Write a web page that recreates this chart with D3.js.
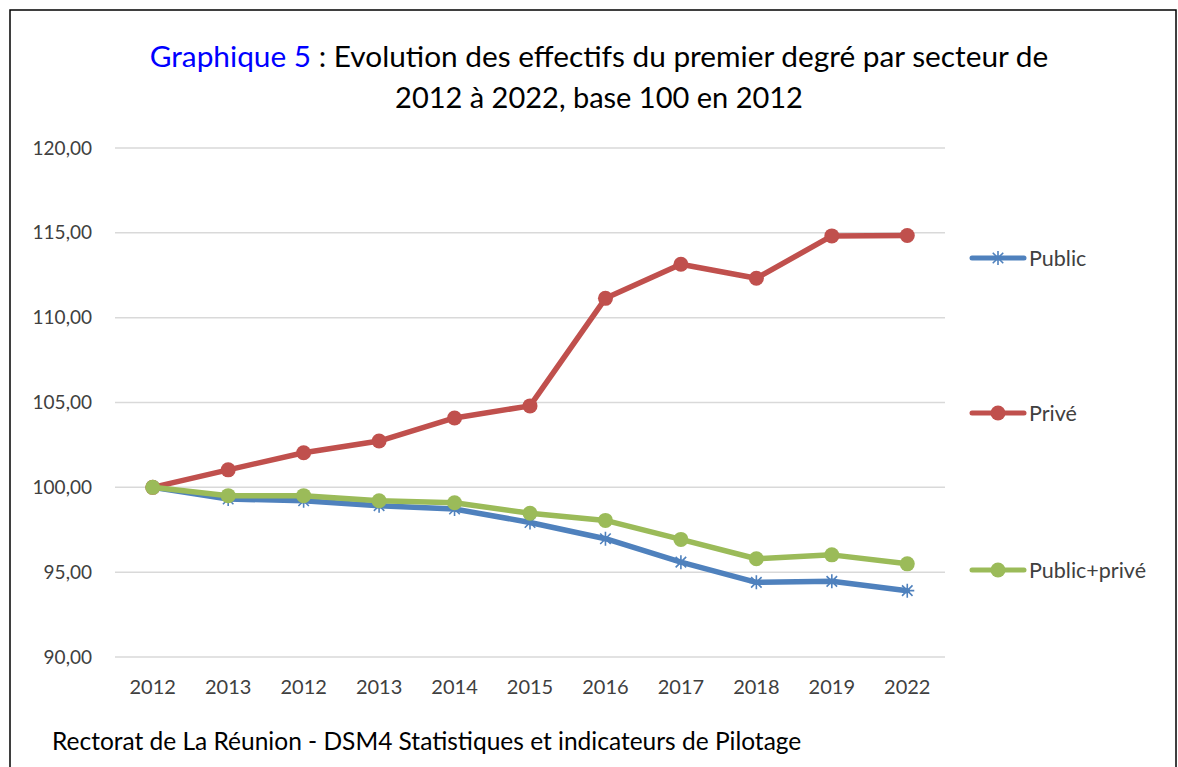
<!DOCTYPE html>
<html>
<head>
<meta charset="utf-8">
<script src="https://cdn.jsdelivr.net/npm/d3@7"></script>
<style>
  body { margin: 0; background: #fff; }
  svg { display: block; font-family: Lato, "Open Sans", sans-serif; }
</style>
</head>
<body>
<svg width="1178" height="767"></svg>
<script>
// catégories (l'axe reprend les libellés tels quels, doublons compris)
let years = ["2012", "2013", "2012", "2013", "2014", "2015", "2016", "2017", "2018", "2019", "2022"];
let yTicks = [90, 95, 100, 105, 110, 115, 120];

// séries base 100
let publicVals = [100, 99.31, 99.21, 98.92, 98.72, 97.93, 96.97, 95.59, 94.40, 94.46, 93.91];
let priveVals = [100, 101.03, 102.04, 102.73, 104.09, 104.80, 111.14, 113.15, 112.32, 114.82, 114.84];
let totalVals = [100, 99.51, 99.51, 99.21, 99.09, 98.47, 98.05, 96.93, 95.79, 96.02, 95.49];

let seriesNames = ["Public", "Privé", "Public+privé"];
let seriesColors = ["#4F81BD", "#C0504D", "#9BBB59"];
let seriesMarkers = ["star", "circle", "circle"];

let series = [publicVals, priveVals, totalVals].map((vals, i) => ({
    name: seriesNames[i],
    color: seriesColors[i],
    marker: seriesMarkers[i],
    values: vals
}));

let svg = d3.select("svg");

//cadre
svg.append("rect")
    .attr("x", 10).attr("y", 10)
    .attr("width", 1166).attr("height", 770)
    .attr("fill", "none")
    .attr("stroke", "#000")
    .attr("stroke-width", 1.5);

//titre
let title = svg.append("text")
    .attr("x", 599).attr("y", 67)
    .attr("text-anchor", "middle")
    .style("font-size", "29.8px")
    .attr("fill", "#000");
title.append("tspan").attr("fill", "#0000FF").text("Graphique 5");
title.append("tspan").text(" : Evolution des effectifs du premier degré par secteur de");
svg.append("text")
    .attr("x", 599).attr("y", 108)
    .attr("text-anchor", "middle")
    .style("font-size", "29px")
    .attr("fill", "#000")
    .text("2012 à 2022, base 100 en 2012");

//échelles
let x = d3.scaleBand().domain(d3.range(years.length)).range([115, 945]);
let y = d3.scaleLinear().domain([90, 120]).range([657, 148]);

//grille
svg.append("g")
    .selectAll("line")
    .data(yTicks)
    .enter()
    .append("line")
    .attr("x1", 115).attr("x2", 945)
    .attr("y1", d => y(d)).attr("y2", d => y(d))
    .attr("stroke", "#D9D9D9")
    .attr("stroke-width", 1.5);

//axe y
let yAxis = svg.append("g")
    .attr("transform", "translate(100,0)")
    .call(d3.axisLeft(y).tickValues(yTicks).tickSize(0).tickPadding(8)
        .tickFormat(d => d3.format(".2f")(d).replace(".", ",")));
yAxis.select(".domain").remove();
yAxis.selectAll("text")
    .attr("fill", "#404040")
    .style("font-size", "19px")
    .style("font-family", "Lato, 'Open Sans', sans-serif");

//axe x
let xAxis = svg.append("g")
    .attr("transform", "translate(0,674)")
    .call(d3.axisBottom(x).tickSize(0).tickPadding(6).tickFormat(i => years[i]));
xAxis.select(".domain").remove();
xAxis.selectAll("text")
    .attr("fill", "#404040")
    .style("font-size", "20px")
    .style("font-family", "Lato, 'Open Sans', sans-serif");

let cx = i => x(i) + x.bandwidth() / 2;

let line = d3.line()
    .x((d, i) => cx(i))
    .y(d => y(d));

//marqueur étoile (astérisque) ou rond
function drawMarker(g, s, px, py) {
    if (s.marker === "circle") {
        g.append("circle")
            .attr("cx", px).attr("cy", py).attr("r", 7.5)
            .attr("fill", s.color);
    } else {
        let r = 7;
        let path = "M" + (px - r) + "," + py + "L" + (px + r) + "," + py
            + "M" + px + "," + (py - r) + "L" + px + "," + (py + r)
            + "M" + (px - r * 0.75) + "," + (py - r * 0.75) + "L" + (px + r * 0.75) + "," + (py + r * 0.75)
            + "M" + (px - r * 0.75) + "," + (py + r * 0.75) + "L" + (px + r * 0.75) + "," + (py - r * 0.75);
        g.append("path")
            .attr("d", path)
            .attr("stroke", s.color)
            .attr("stroke-width", 1.6)
            .attr("fill", "none");
    }
}

//courbes
series.forEach(s => {
    let g = svg.append("g");
    g.append("path")
        .datum(s.values)
        .attr("d", line)
        .attr("fill", "none")
        .attr("stroke", s.color)
        .attr("stroke-width", 5.5)
        .attr("stroke-linejoin", "round")
        .attr("stroke-linecap", "round");
    s.values.forEach((v, i) => drawMarker(g, s, cx(i), y(v)));
});

//légende
let legendY = [258, 413, 570];
series.forEach((s, i) => {
    let g = svg.append("g");
    g.append("line")
        .attr("x1", 972).attr("x2", 1024)
        .attr("y1", legendY[i]).attr("y2", legendY[i])
        .attr("stroke", s.color)
        .attr("stroke-width", 5)
        .attr("stroke-linecap", "round");
    drawMarker(g, s, 998, legendY[i]);
    g.append("text")
        .attr("x", 1029).attr("y", legendY[i])
        .attr("dy", "0.35em")
        .attr("fill", "#404040")
        .style("font-size", "21.5px")
        .text(s.name);
});

//source
svg.append("text")
    .attr("x", 52).attr("y", 750)
    .attr("fill", "#000")
    .style("font-size", "24.5px")
    .text("Rectorat de La Réunion - DSM4 Statistiques et indicateurs de Pilotage");
</script>
</body>
</html>
